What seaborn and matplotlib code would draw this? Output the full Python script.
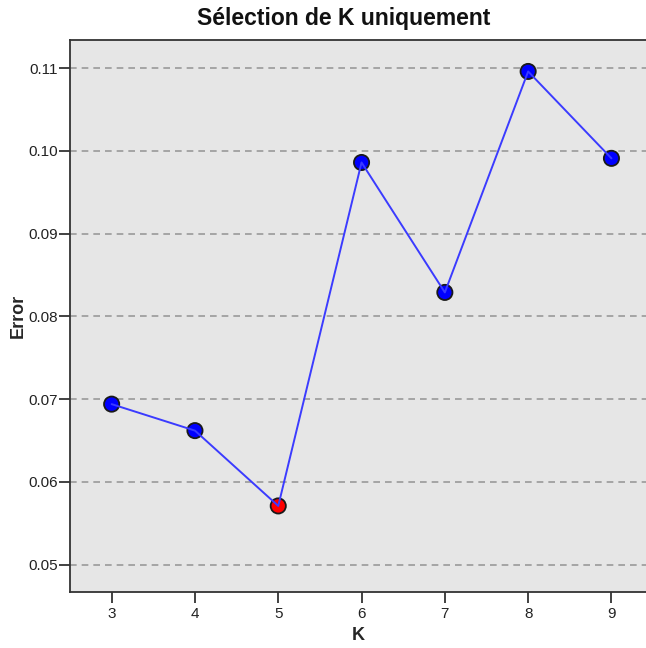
import matplotlib
matplotlib.use("Agg")
import matplotlib.pyplot as plt
import seaborn as sns
import pandas as pd

k_values = [3, 4, 5, 6, 7, 8, 9]
errors = [0.0694, 0.0662, 0.0571, 0.0986, 0.0829, 0.1096, 0.0991]
y_ticks = [0.05, 0.06, 0.07, 0.08, 0.09, 0.10, 0.11]
y_tick_labels = ["0.05", "0.06", "0.07", "0.08", "0.09", "0.10", "0.11"]
title = "Sélection de K uniquement"
x_label = "K"
y_label = "Error"

sns.set_theme(style="white")
plt.rcParams['font.family'] = ['Liberation Sans', 'DejaVu Sans']

df = pd.DataFrame({"K": k_values, "Error": errors})
best = df["Error"].idxmin()
df["sel"] = ["best" if i == best else "other" for i in df.index]

fig = plt.figure(figsize=(6.46, 6.48), dpi=100)
W, H = 646, 648
left_px, top_px, bottom_px = 70, 40, 592
unit_px = 83.3
ax = fig.add_axes([left_px / W, (H - bottom_px) / H, 7 * unit_px / W, (bottom_px - top_px) / H])
ax.set_facecolor("#e6e6e6")

sns.lineplot(data=df, x="K", y="Error", ax=ax, color="#3b3bff", linewidth=1.4, zorder=4)
sns.scatterplot(data=df, x="K", y="Error", hue="sel",
                palette={"other": "#0000ff", "best": "#ff0000"},
                s=120, edgecolor="#1a1a1a", linewidth=1.3, ax=ax, zorder=3, legend=False)

ax.set_xlim(2.5, 9.5)
ax.set_ylim(0.0467, 0.1134)
ax.set_xticks(k_values)
ax.set_xticklabels([str(k) for k in k_values])
ax.set_yticks(y_ticks)
ax.set_yticklabels(y_tick_labels)

for y in y_ticks:
    ax.axhline(y, color="#9a9a9a", linewidth=1.2, linestyle=(0, (4, 3)), zorder=1)

for side in ["left", "bottom", "top", "right"]:
    ax.spines[side].set_color("#333333")
    ax.spines[side].set_linewidth(1.3)

ax.tick_params(axis="both", which="major", direction="out", length=8, width=1.3,
               color="#333333", labelsize=11, labelcolor="#222222",
               bottom=True, left=True, top=False, right=False)
ax.tick_params(axis="y", pad=0.5)
ax.tick_params(axis="x", pad=3)

ax.set_xlabel(x_label, fontsize=13, fontweight="bold")
ax.set_ylabel(y_label, fontsize=13, fontweight="bold")
ax.xaxis.set_label_coords((358 - left_px) / (7 * unit_px), -0.063)
ax.yaxis.set_label_coords(-0.074, 0.5)
fig.text(344 / W, 1 - 18 / H, title, fontsize=16.5, fontweight="bold",
         ha="center", va="center", color="#111111")

fig.savefig("out.png", dpi=100)
